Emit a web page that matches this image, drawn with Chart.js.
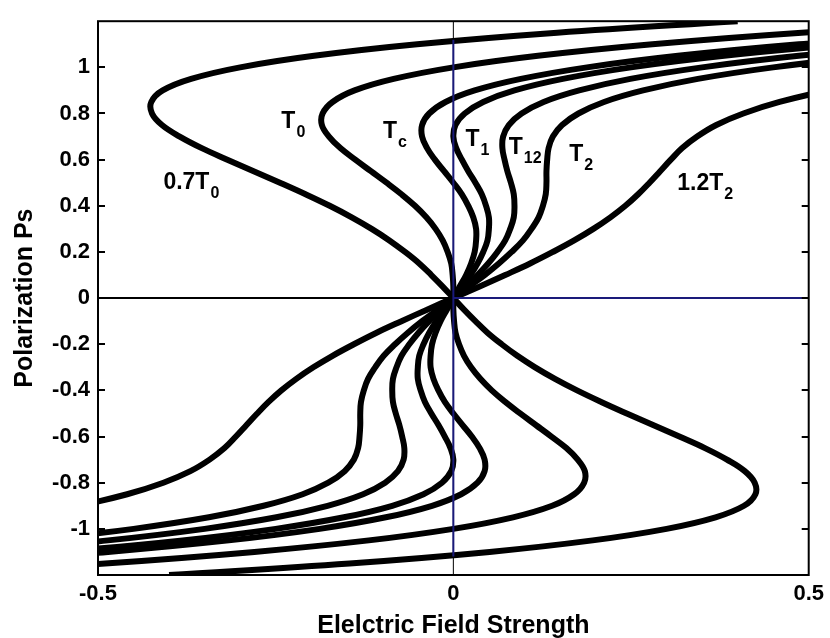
<!DOCTYPE html>
<html><head><meta charset="utf-8">
<script src="https://cdn.jsdelivr.net/npm/chart.js@4/dist/chart.umd.min.js"></script>
<style>html,body{margin:0;padding:0;background:#fff}canvas{display:block}</style>
</head><body>
<canvas id="c" width="830" height="638"></canvas>
<script>
// Polarization values (y) at which each curve's field strength (x) was read
const polarization = [-1.2,-1.15,-1.1,-1.05,-1,-0.95,-0.9,-0.85,-0.8,-0.75,-0.7,-0.65,-0.6,-0.55,-0.5,-0.45,-0.4,-0.35,-0.3,-0.25,-0.2,-0.15,-0.1,-0.05,0,0.05,0.1,0.15,0.2,0.25,0.3,0.35,0.4,0.45,0.5,0.55,0.6,0.65,0.7,0.75,0.8,0.85,0.9,0.95,1,1.05,1.1,1.15,1.2];

// Electric field strength for each curve, one value per polarization entry
const field07T0 = [-0.400,-0.146,0.051,0.196,0.300,0.369,0.409,0.425,0.424,0.410,0.385,0.354,0.318,0.281,0.244,0.208,0.174,0.143,0.115,0.090,0.068,0.048,0.031,0.015,0,-0.015,-0.031,-0.048,-0.068,-0.090,-0.115,-0.143,-0.174,-0.208,-0.244,-0.281,-0.318,-0.354,-0.385,-0.410,-0.424,-0.425,-0.409,-0.369,-0.300,-0.196,-0.051,0.146,0.400];
const fieldT0 = [-0.760,-0.490,-0.280,-0.119,0,0.084,0.139,0.170,0.184,0.185,0.175,0.159,0.138,0.116,0.094,0.073,0.054,0.038,0.025,0.015,0.008,0.003,0.001,0,0,0,-0.001,-0.003,-0.008,-0.015,-0.025,-0.038,-0.054,-0.073,-0.094,-0.116,-0.138,-0.159,-0.175,-0.185,-0.184,-0.170,-0.139,-0.084,0,0.119,0.280,0.490,0.760];
const fieldTc = [-0.985,-0.706,-0.486,-0.316,-0.188,-0.095,-0.030,0.011,0.034,0.044,0.044,0.037,0.026,0.013,0,-0.012,-0.021,-0.028,-0.032,-0.032,-0.030,-0.025,-0.018,-0.009,0,0.009,0.018,0.025,0.030,0.032,0.032,0.028,0.021,0.012,0,-0.013,-0.026,-0.037,-0.044,-0.044,-0.034,-0.011,0.030,0.095,0.188,0.316,0.486,0.706,0.985];
const fieldT1 = [-1.060,-0.778,-0.555,-0.381,-0.250,-0.154,-0.086,-0.042,-0.016,-0.003,0,-0.004,-0.012,-0.021,-0.031,-0.040,-0.046,-0.050,-0.050,-0.048,-0.042,-0.034,-0.024,-0.012,0,0.012,0.024,0.034,0.042,0.048,0.050,0.050,0.046,0.040,0.031,0.021,0.012,0.004,0,0.003,0.016,0.042,0.086,0.154,0.250,0.381,0.555,0.778,1.060];
const fieldT12 = [-1.180,-0.893,-0.665,-0.486,-0.350,-0.249,-0.177,-0.127,-0.096,-0.078,-0.070,-0.069,-0.072,-0.076,-0.081,-0.085,-0.086,-0.085,-0.080,-0.073,-0.062,-0.049,-0.034,-0.017,0,0.017,0.034,0.049,0.062,0.073,0.080,0.085,0.086,0.085,0.081,0.076,0.072,0.069,0.070,0.078,0.096,0.127,0.177,0.249,0.350,0.486,0.665,0.893,1.180];
const fieldT2 = [-1.300,-1.008,-0.775,-0.591,-0.450,-0.344,-0.267,-0.212,-0.176,-0.153,-0.140,-0.134,-0.132,-0.131,-0.131,-0.130,-0.126,-0.120,-0.110,-0.098,-0.082,-0.064,-0.044,-0.022,0,0.022,0.044,0.064,0.082,0.098,0.110,0.120,0.126,0.130,0.131,0.131,0.132,0.134,0.140,0.153,0.176,0.212,0.267,0.344,0.450,0.591,0.775,1.008,1.300];
const field12T2 = [-1.648,-1.342,-1.094,-0.896,-0.740,-0.619,-0.528,-0.459,-0.408,-0.370,-0.343,-0.322,-0.306,-0.291,-0.276,-0.260,-0.242,-0.221,-0.197,-0.170,-0.140,-0.108,-0.073,-0.037,0,0.037,0.073,0.108,0.140,0.170,0.197,0.221,0.242,0.260,0.276,0.291,0.306,0.322,0.343,0.370,0.408,0.459,0.528,0.619,0.740,0.896,1.094,1.342,1.648];

const curveNames = ['0.7T0','T0','Tc','T1','T12','T2','1.2T2'];
const curveFields = [field07T0, fieldT0, fieldTc, fieldT1, fieldT12, fieldT2, field12T2];

// Axis ticks and titles
const xTickValues = [-0.5, 0, 0.5];
const xTickLabels = ['-0.5', '0', '0.5'];
const yTickValues = [-1, -0.8, -0.6, -0.4, -0.2, 0, 0.2, 0.4, 0.6, 0.8, 1];
const yTickLabels = ['-1', '-0.8', '-0.6', '-0.4', '-0.2', '0', '0.2', '0.4', '0.6', '0.8', '1'];
const xTitle = 'Elelctric Field Strength';
const yTitle = 'Polarization Ps';

// In-plot curve labels (main text + subscript), anchored in data units
const curveLabels = [
  {text: '0.7T', sub: '0', at: [-0.408, 0.472]},
  {text: 'T', sub: '0', at: [-0.242, 0.737]},
  {text: 'T', sub: 'c', at: [-0.099, 0.694]},
  {text: 'T', sub: '1', at: [0.017, 0.660]},
  {text: 'T', sub: '12', at: [0.078, 0.623]},
  {text: 'T', sub: '2', at: [0.163, 0.596]},
  {text: '1.2T', sub: '2', at: [0.315, 0.468]}
];

const FONT = '"Liberation Sans", Arial, Helvetica, sans-serif';
const NAVY = '#1a1a7a';

const datasets = [];
// reference lines through the origin (index 0 is drawn on top)
datasets.push({label: 'E=0', data: [{x: 0, y: -1.12}, {x: 0, y: 1.12}], borderColor: NAVY, borderWidth: 2, pointRadius: 0, order: 0, clip: 0});
datasets.push({label: 'P=0 right', data: [{x: 0, y: 0}, {x: 0.5, y: 0}], borderColor: NAVY, borderWidth: 2, pointRadius: 0, order: 0, clip: 0});
datasets.push({label: 'P=0 left', data: [{x: -0.5, y: 0}, {x: 0, y: 0}], borderColor: '#000', borderWidth: 2, pointRadius: 0, order: 0, clip: 0});
datasets.push({label: 'E=0 (black)', data: [{x: 0, y: -1.2}, {x: 0, y: 1.2}], borderColor: '#000', borderWidth: 1, pointRadius: 0, order: 0, clip: 0});

curveNames.forEach((name, k) => {
  datasets.push({
    label: name,
    data: polarization.map((p, i) => ({x: curveFields[k][i], y: p})),
    borderColor: '#000',
    borderWidth: 6,
    pointRadius: 0,
    tension: 0.4,
    fill: false,
    order: 1,
    clip: 0
  });
});

const framePlugin = {
  id: 'frame',
  afterDatasetsDraw(chart) {
    const {ctx, chartArea: a, scales: {x, y}} = chart;
    ctx.save();
    // tick marks pointing inward on both vertical sides
    ctx.strokeStyle = '#000';
    ctx.lineWidth = 2;
    ctx.beginPath();
    yTickValues.forEach(v => {
      const py = Math.round(y.getPixelForValue(v));
      ctx.moveTo(a.left, py); ctx.lineTo(a.left + 7, py);
      ctx.moveTo(a.right, py); ctx.lineTo(a.right - 7, py);
    });
    ctx.stroke();
    // frame
    ctx.lineWidth = 2;
    ctx.strokeRect(a.left, a.top, a.right - a.left, a.bottom - a.top);
    // curve labels
    ctx.fillStyle = '#000';
    ctx.textAlign = 'left';
    ctx.textBaseline = 'alphabetic';
    curveLabels.forEach(l => {
      const px = x.getPixelForValue(l.at[0]);
      const py = y.getPixelForValue(l.at[1]);
      ctx.font = 'bold 23px ' + FONT;
      ctx.fillText(l.text, px, py);
      const w = ctx.measureText(l.text).width;
      ctx.font = 'bold 16px ' + FONT;
      ctx.fillText(l.sub, px + w + 1, py + 9);
    });
    ctx.restore();
  }
};

new Chart(document.getElementById('c'), {
  type: 'scatter',
  data: {datasets},
  options: {
    responsive: false,
    animation: false,
    devicePixelRatio: 1,
    showLine: true,
    layout: {padding: {top: 11, right: 14, left: 0, bottom: 0}, autoPadding: false},
    plugins: {legend: {display: false}, tooltip: {enabled: false}},
    elements: {line: {capBezierPoints: false}},
    scales: {
      x: {
        type: 'linear', min: -0.5, max: 0.5,
        grid: {display: false, drawTicks: false}, border: {display: false},
        afterBuildTicks: s => { s.ticks = xTickValues.map(v => ({value: v})); },
        afterFit: s => { s.height = 63; },
        ticks: {
          callback: v => xTickLabels[xTickValues.indexOf(v)],
          font: {family: FONT, size: 22, weight: 'bold'}, color: '#000',
          padding: 6, maxRotation: 0, autoSkip: false
        },
        title: {display: true, text: xTitle, color: '#000', font: {family: FONT, size: 25, weight: 'bold'}, padding: {top: 0, bottom: -3}}
      },
      y: {
        type: 'linear', min: -1.2, max: 1.2,
        grid: {display: false, drawTicks: false}, border: {display: false},
        afterBuildTicks: s => { s.ticks = yTickValues.map(v => ({value: v})); },
        afterFit: s => { s.width = 98; },
        ticks: {
          callback: v => yTickLabels[yTickValues.indexOf(v)],
          font: {family: FONT, size: 22, weight: 'bold'}, color: '#000',
          padding: 8, autoSkip: false
        },
        title: {display: true, text: yTitle, color: '#000', font: {family: FONT, size: 25, weight: 'bold'}, padding: {top: 10, bottom: 0}}
      }
    }
  },
  plugins: [framePlugin]
});
</script>
</body></html>
